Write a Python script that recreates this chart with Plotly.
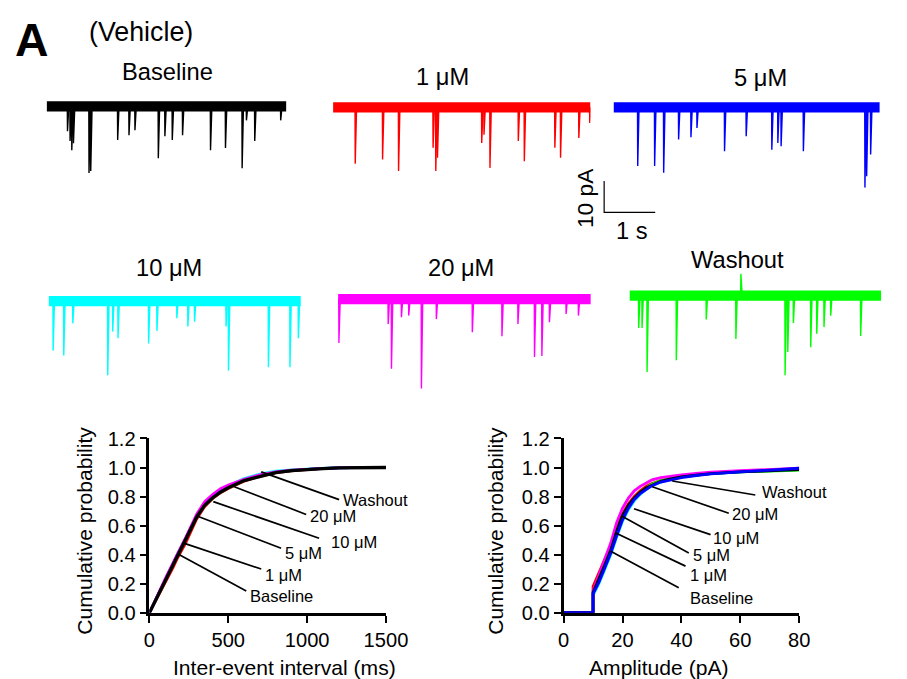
import plotly.graph_objects as go

# ---------------- DATA ----------------
# Trace recordings: duration (s), event times (s) and event peak currents (pA)
conditions = ["Baseline", "1 μM", "5 μM", "10 μM", "20 μM", "Washout"]
colors = ["#000000", "#ff0000", "#0000ff", "#00ffff", "#ff00ff", "#00ff00"]
durations_s = [4.62, 4.96, 5.13, 4.86, 4.87, 4.85]

baseline_t = [0.398, 0.448, 0.481, 0.513, 0.813, 0.846, 1.365, 1.583, 1.698, 2.148,
              2.275, 2.417, 2.615, 3.154, 3.442, 3.763, 3.846, 4.006, 4.506]
baseline_pA = [-7.8, -10.9, -13.8, -11.6, -20.9, -20.3, -10.6, -9.1, -7.5, -16.3,
               -9.4, -10.6, -9.1, -13.8, -13.1, -19.4, -4.4, -10.9, -4.4]

um1_t = [0.423, 0.950, 1.258, 1.923, 1.975, 2.008, 2.860, 2.904, 3.019, 3.565,
         3.681, 4.269, 4.379, 4.731, 4.942]
um1_pA = [-17.7, -16.4, -20.0, -12.7, -20.0, -15.8, -11.2, -8.6, -19.0, -10.6,
          -16.9, -12.7, -15.8, -9.6, -4.9]

um5_t = [0.462, 0.788, 0.962, 1.250, 1.488, 1.604, 2.135, 2.552, 3.046, 3.162,
         3.225, 3.654, 4.840, 4.873, 4.950]
um5_pA = [-18.4, -18.4, -20.5, -10.1, -9.4, -6.5, -13.8, -9.1, -13.3, -11.2,
          -12.2, -13.8, -25.2, -21.6, -14.8]

um10_t = [0.083, 0.288, 0.462, 1.135, 1.231, 1.333, 1.923, 2.083, 2.467, 2.679,
          2.808, 3.415, 3.462, 4.231, 4.646, 4.808]
um10_pA = [-15.6, -17.1, -7.0, -23.3, -9.6, -11.7, -13.3, -9.4, -5.4, -8.0,
           -6.5, -8.0, -21.9, -20.8, -20.8, -11.7]

um20_t = [0.012, 0.962, 1.025, 1.217, 1.358, 1.602, 1.890, 2.583, 3.154, 3.462,
          3.781, 3.923, 4.069, 4.390, 4.627]
um20_pA = [-13.8, -7.8, -21.9, -5.7, -5.2, -28.1, -6.3, -10.4, -11.7, -7.8,
           -18.2, -17.9, -7.3, -4.7, -5.2]

washout_t = [0.173, 0.238, 0.335, 0.898, 1.475, 2.046, 2.142, 2.994, 3.046, 3.154,
             3.488, 3.604, 3.744, 3.873, 4.450]
washout_pA = [-10.2, -10.2, -24.0, -20.3, -7.5, -13.6, 6.8, -25.0, -17.7, -8.6,
              -16.2, -12.0, -9.9, -6.3, -12.7]

event_times = [baseline_t, um1_t, um5_t, um10_t, um20_t, washout_t]
event_peaks = [baseline_pA, um1_pA, um5_pA, um10_pA, um20_pA, washout_pA]

scale_time_s = 1
scale_current_pA = 10

# Cumulative probability: inter-event interval (ms)
iei_x = [0, 50, 100, 150, 180, 230, 300, 350, 400, 450, 500, 600, 700, 800, 900,
         1000, 1100, 1200, 1350, 1500]
iei_baseline = [0, 0.11, 0.22, 0.33, 0.40, 0.50, 0.66, 0.74, 0.79, 0.83, 0.86, 0.91,
                0.94, 0.965, 0.978, 0.987, 0.993, 0.998, 1.0, 1.0]
iei_1um = [0, 0.10, 0.205, 0.31, 0.38, 0.48, 0.645, 0.73, 0.785, 0.825, 0.855, 0.905,
           0.94, 0.963, 0.977, 0.986, 0.993, 0.998, 1.0, 1.0]
iei_5um = [0, 0.115, 0.225, 0.335, 0.405, 0.505, 0.665, 0.745, 0.795, 0.835, 0.865,
           0.912, 0.945, 0.968, 0.98, 0.988, 0.994, 0.998, 1.0, 1.0]
iei_10um = [0, 0.115, 0.23, 0.34, 0.41, 0.51, 0.67, 0.75, 0.80, 0.845, 0.875, 0.925,
            0.955, 0.975, 0.985, 0.99, 0.995, 0.999, 1.0, 1.0]
iei_20um = [0, 0.12, 0.235, 0.345, 0.415, 0.52, 0.68, 0.765, 0.815, 0.855, 0.88, 0.92,
            0.95, 0.97, 0.982, 0.989, 0.994, 0.998, 1.0, 1.0]
iei_washout = [0, 0.11, 0.22, 0.33, 0.40, 0.50, 0.66, 0.74, 0.79, 0.83, 0.86, 0.91,
               0.945, 0.967, 0.978, 0.987, 0.993, 0.998, 1.0, 1.0]
iei_curves = [iei_baseline, iei_1um, iei_5um, iei_10um, iei_20um, iei_washout]

# Cumulative probability: amplitude (pA)
amp_x = [0, 10, 10, 12, 14, 16, 18, 20, 22, 24, 26, 28, 30, 33, 36, 40, 45, 50, 60, 70, 80]
amp_baseline = [0, 0, 0.14, 0.23, 0.33, 0.43, 0.56, 0.67, 0.74, 0.79, 0.83, 0.86, 0.88,
                0.905, 0.92, 0.935, 0.948, 0.958, 0.97, 0.978, 0.985]
amp_1um = [0, 0, 0.18, 0.28, 0.37, 0.46, 0.58, 0.68, 0.75, 0.80, 0.84, 0.87, 0.89,
           0.91, 0.925, 0.94, 0.952, 0.962, 0.973, 0.982, 0.99]
amp_5um = [0, 0, 0.13, 0.21, 0.31, 0.41, 0.53, 0.64, 0.72, 0.78, 0.82, 0.85, 0.875,
           0.90, 0.915, 0.93, 0.945, 0.956, 0.97, 0.98, 0.995]
amp_10um = [0, 0, 0.12, 0.20, 0.30, 0.40, 0.52, 0.63, 0.71, 0.77, 0.815, 0.85, 0.875,
            0.90, 0.918, 0.935, 0.948, 0.958, 0.97, 0.978, 0.988]
amp_20um = [0, 0, 0.15, 0.26, 0.37, 0.48, 0.62, 0.72, 0.79, 0.84, 0.87, 0.895, 0.915,
            0.93, 0.94, 0.95, 0.96, 0.968, 0.978, 0.987, 0.995]
amp_washout = [0, 0, 0.14, 0.22, 0.32, 0.42, 0.55, 0.66, 0.73, 0.785, 0.83, 0.86, 0.885,
               0.91, 0.925, 0.94, 0.95, 0.96, 0.97, 0.977, 0.982]
amp_curves = [amp_baseline, amp_1um, amp_5um, amp_10um, amp_20um, amp_washout]

# Leader-line labels (order: Washout, 20, 10, 5, 1, Baseline)
cdf_labels = ["Washout", "20 μM", "10 μM", "5 μM", "1 μM", "Baseline"]
iei_tip_x = [709, 538, 405, 310, 222, 184]
iei_tip_y = [0.970, 0.868, 0.765, 0.663, 0.478, 0.403]
iei_end_x = [1203, 994, 1076, 835, 709, 614]
iei_end_y = [0.779, 0.677, 0.513, 0.444, 0.301, 0.150]
iei_lab_x = [1215, 1006, 1139, 848, 721, 627]
iei_lab_y = [0.779, 0.663, 0.485, 0.408, 0.262, 0.118]

amp_tip_x = [36.9, 30.1, 23.9, 20.0, 17.7, 16.0]
amp_tip_y = [0.907, 0.868, 0.716, 0.663, 0.549, 0.424]
amp_end_x = [65.1, 56.1, 49.9, 42.5, 41.4, 39.1]
amp_end_y = [0.811, 0.685, 0.538, 0.412, 0.321, 0.173]
amp_lab_x = [66.8, 56.6, 50.2, 43.1, 42.1, 42.1]
amp_lab_y = [0.834, 0.677, 0.516, 0.400, 0.260, 0.100]

# ---------------- LAYOUT ----------------
W, H = 907, 700
FONT = "Arial, Liberation Sans, sans-serif"
# the photographed page comes out slightly reduced; place items so they land right
SX, SY, OX, OY = 0.971, 0.9725, 4.3, 7.8
FS = 1 / 0.97


def fx(p):
    return ((p - OX) / SX) / W


def fy(p):
    return 1 - ((p - OY) / SY) / H


def fs(s):
    return round(s * FS, 1)


PX_PER_S = 52.0
PX_PER_PA = 3.2
panel_x0 = [45, 332, 613, 47, 337, 629]
panel_base = [103.5, 104.5, 104.5, 299, 297, 293.5]
Y_LO, Y_HI = -32, 8

fig = go.Figure()
layout = {}

for i in range(6):
    n = i + 1
    xa = "x" if n == 1 else f"x{n}"
    ya = "y" if n == 1 else f"y{n}"
    dur = durations_s[i]
    fig.add_trace(go.Scatter(x=[0, dur], y=[0, 0], mode="lines",
                             line=dict(color=colors[i], width=fs(10)),
                             xaxis=xa, yaxis=ya, hoverinfo="skip", showlegend=False))
    ex, ey = [], []
    for t, p in zip(event_times[i], event_peaks[i]):
        ex += [t, t + 0.004, t + 0.03, None]
        ey += [0, p, 0, None]
    fig.add_trace(go.Scatter(x=ex, y=ey, mode="lines",
                             line=dict(color=colors[i], width=1.4),
                             xaxis=xa, yaxis=ya, hoverinfo="skip", showlegend=False))
    x0 = panel_x0[i]
    x1 = x0 + dur * PX_PER_S
    top = panel_base[i] - Y_HI * PX_PER_PA
    bot = panel_base[i] - Y_LO * PX_PER_PA
    layout["xaxis" if n == 1 else f"xaxis{n}"] = dict(
        domain=[fx(x0), fx(x1)], range=[0, dur], visible=False, anchor=ya)
    layout["yaxis" if n == 1 else f"yaxis{n}"] = dict(
        domain=[fy(bot), fy(top)], range=[Y_LO, Y_HI], visible=False, anchor=xa)

fig.add_trace(go.Scatter(x=[0, 0, scale_time_s], y=[scale_current_pA, 0, 0], mode="lines",
                         line=dict(color="black", width=2.4),
                         xaxis="x9", yaxis="y9", hoverinfo="skip", showlegend=False))
sb_x0, sb_y0 = 603, 210.5
layout["xaxis9"] = dict(domain=[fx(sb_x0), fx(sb_x0 + scale_time_s * PX_PER_S)],
                        range=[0, scale_time_s], visible=False, anchor="y9")
layout["yaxis9"] = dict(domain=[fy(sb_y0), fy(sb_y0 - scale_current_pA * PX_PER_PA)],
                        range=[0, scale_current_pA], visible=False, anchor="x9")

iei_order = [1, 5, 3, 2, 4, 0]
amp_order = [1, 5, 3, 4, 0, 2]
for i in iei_order:
    fig.add_trace(go.Scatter(x=iei_x, y=iei_curves[i], mode="lines",
                             line=dict(color=colors[i], width=3.3 if i == 0 else 2.6),
                             xaxis="x7", yaxis="y7", hoverinfo="skip", showlegend=False))
for i in amp_order:
    fig.add_trace(go.Scatter(x=amp_x, y=amp_curves[i], mode="lines",
                             line=dict(color=colors[i], width=2.8),
                             xaxis="x8", yaxis="y8", hoverinfo="skip", showlegend=False))

for tx, ty, exx, eyy, xa, ya in [(iei_tip_x, iei_tip_y, iei_end_x, iei_end_y, "x7", "y7"),
                                 (amp_tip_x, amp_tip_y, amp_end_x, amp_end_y, "x8", "y8")]:
    lx, ly = [], []
    for a, b, c, d in zip(tx, ty, exx, eyy):
        lx += [a, c, None]
        ly += [b, d, None]
    fig.add_trace(go.Scatter(x=lx, y=ly, mode="lines", line=dict(color="black", width=1.7),
                             xaxis=xa, yaxis=ya, hoverinfo="skip", showlegend=False,
                             cliponaxis=False))

axis_common = dict(showgrid=False, zeroline=False, showline=True, linecolor="black",
                   linewidth=2.6, ticks="outside", ticklen=7, tickwidth=2.1,
                   tickcolor="black", tickfont=dict(family=FONT, size=fs(19.5), color="black"))
cdf_y_dom = [fy(612), fy(437)]
layout["xaxis7"] = dict(domain=[fx(148), fx(385)], range=[0, 1500],
                        tickvals=[0, 500, 1000, 1500], anchor="y7", **axis_common)
layout["yaxis7"] = dict(domain=cdf_y_dom, range=[0, 1.2],
                        tickvals=[0, 0.2, 0.4, 0.6, 0.8, 1.0, 1.2], tickformat=".1f",
                        anchor="x7", **axis_common)
layout["xaxis8"] = dict(domain=[fx(563), fx(799)], range=[0, 80],
                        tickvals=[0, 20, 40, 60, 80], anchor="y8", **axis_common)
layout["yaxis8"] = dict(domain=cdf_y_dom, range=[0, 1.2],
                        tickvals=[0, 0.2, 0.4, 0.6, 0.8, 1.0, 1.2], tickformat=".1f",
                        anchor="x8", **axis_common)

ann = []


def txt(text, x, y, size, bold=False, angle=0, xanchor="center"):
    ann.append(dict(text=f"<b>{text}</b>" if bold else text, x=fx(x), y=fy(y),
                    xref="paper", yref="paper", showarrow=False, textangle=angle,
                    xanchor=xanchor, yanchor="middle",
                    font=dict(family=FONT, size=fs(size), color="black")))


txt("A", 30, 37, 45, bold=True)
txt("(Vehicle)", 140, 29, 26)
title_pos = [(166, 69), (442, 74), (760, 75), (168, 266), (460, 266), (737, 258)]
for lab, (x, y) in zip(conditions, title_pos):
    txt(lab, x, y, 23)
txt("10 pA", 585, 196, 22, angle=-90)
txt("1 s", 632, 229, 23)
txt("Cumulative probability", 83, 530, 20.5, angle=-90)
txt("Inter-event interval (ms)", 283, 667, 20.5)
txt("Cumulative probability", 494, 530, 20.5, angle=-90)
txt("Amplitude (pA)", 659, 667, 20.5)

for labs, lx, ly, xa, ya in [(cdf_labels, iei_lab_x, iei_lab_y, "x7", "y7"),
                             (cdf_labels, amp_lab_x, amp_lab_y, "x8", "y8")]:
    for t, a, b in zip(labs, lx, ly):
        ann.append(dict(text=t, x=a, y=b, xref=xa, yref=ya, showarrow=False,
                        xanchor="left", yanchor="middle",
                        font=dict(family=FONT, size=fs(16), color="black")))

fig.update_layout(width=W, height=H, margin=dict(l=0, r=0, t=0, b=0),
                  paper_bgcolor="white", plot_bgcolor="rgba(0,0,0,0)",
                  showlegend=False, annotations=ann, **layout)

fig.write_html("out.html", config={"displayModeBar": False, "responsive": False},
               post_script=("document.documentElement.style.overflow='hidden';"
                            "document.body.style.margin='0';"
                            "document.body.style.overflow='hidden';"))
